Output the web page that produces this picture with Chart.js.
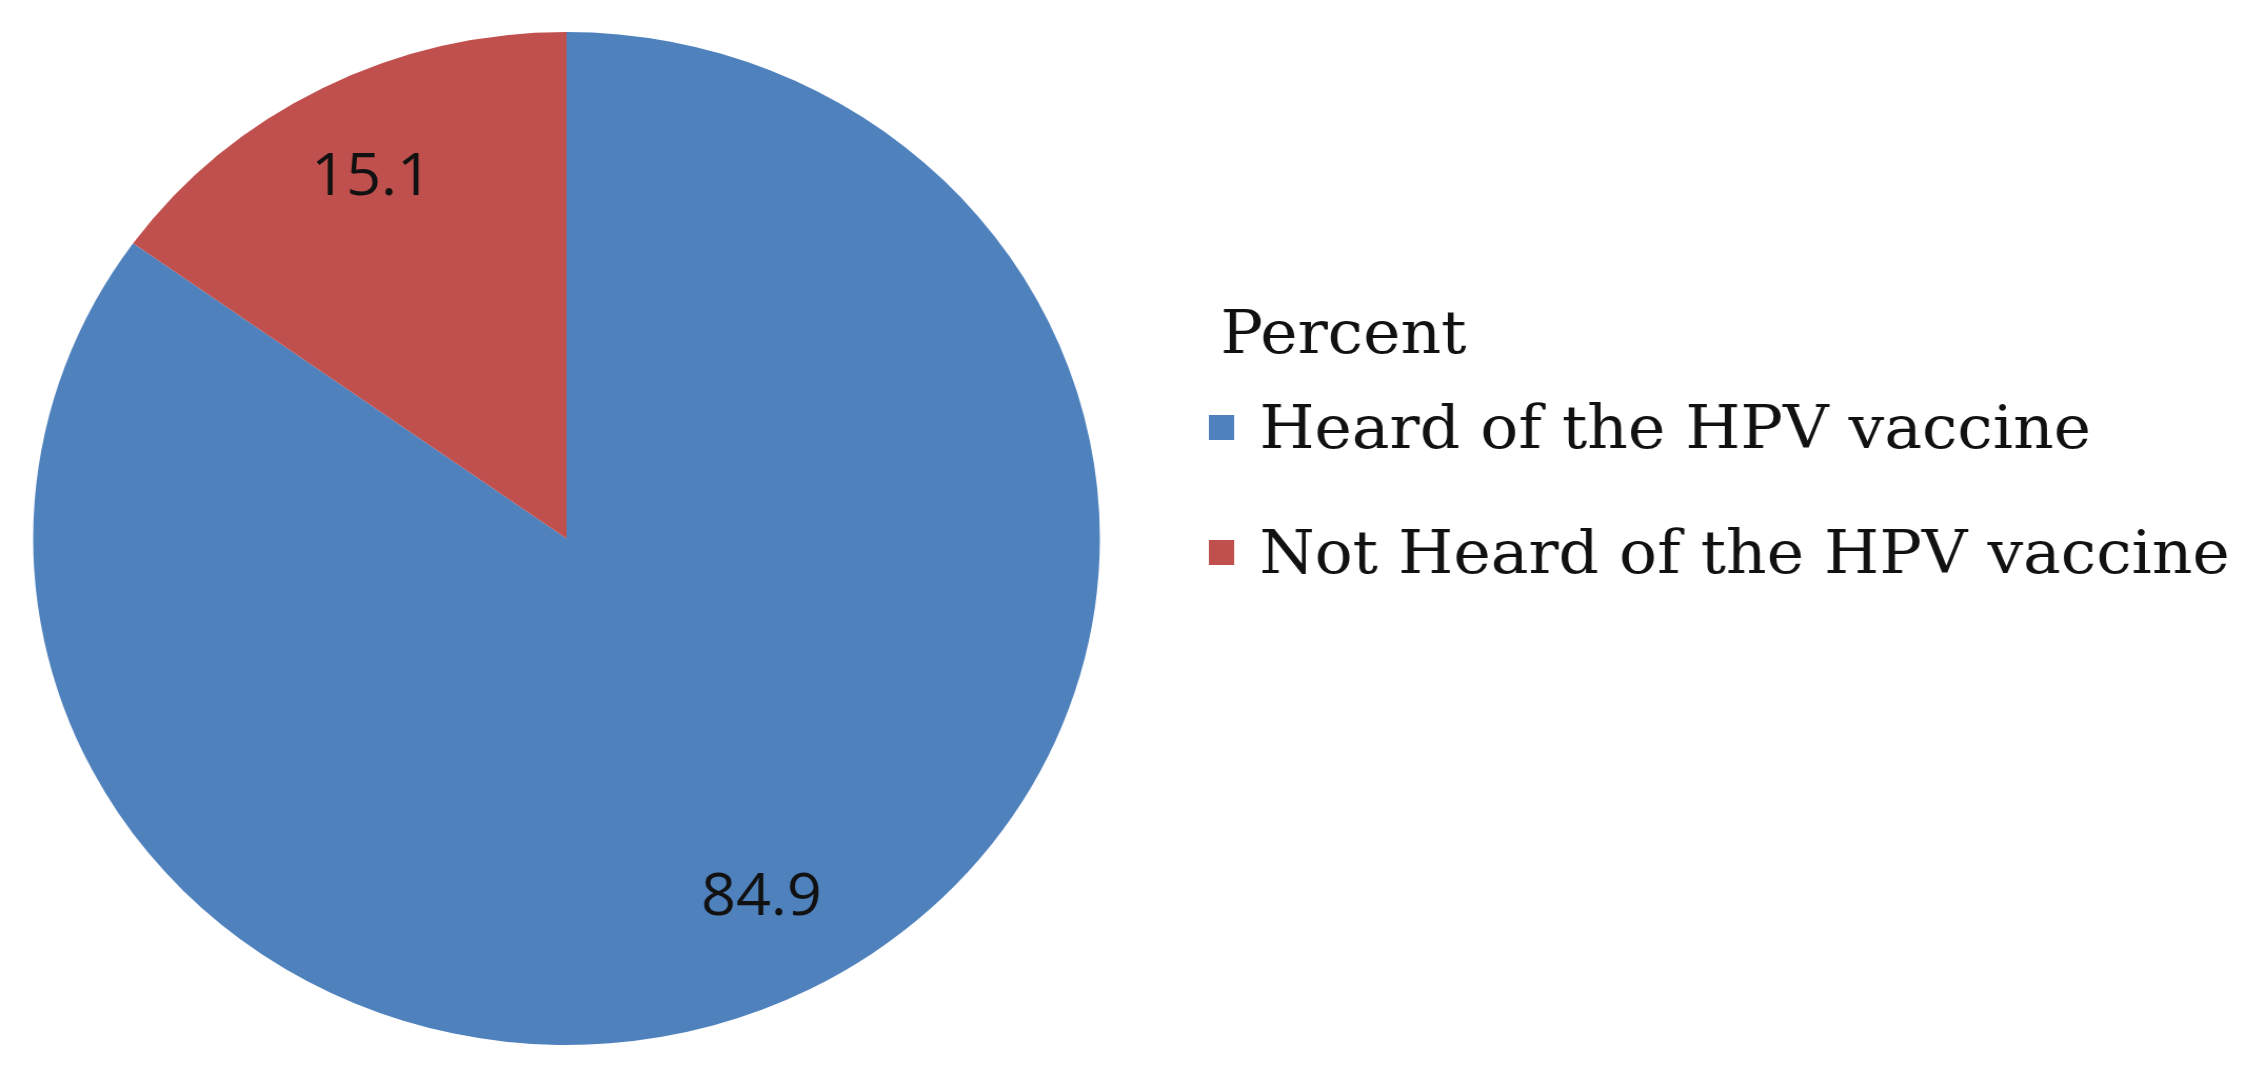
<!DOCTYPE html>
<html>
<head>
<meta charset="UTF-8">
<title>HPV vaccine awareness</title>
<script src="https://cdn.jsdelivr.net/npm/chart.js"></script>
<style>
  body { margin: 0; background: #ffffff; overflow: hidden; }
  /* the original figure is stretched a little sideways, so the pie is an ellipse */
  #wrap { position: relative; width: 2143px; height: 1081px; transform: scaleX(1.053); transform-origin: 0 0; }
</style>
</head>
<body>
<div id="wrap"><canvas id="pie"></canvas></div>
<script>
// data
const categories = ['Heard of the HPV vaccine', 'Not Heard of the HPV vaccine'];
const percentValues = [84.9, 15.1];
const legendTitle = 'Percent';
const sliceColors = ['#4f81bd', '#c0504d'];

// value labels inside the slices
const sliceLabels = {
  id: 'sliceLabels',
  afterDatasetsDraw(chart) {
    const ctx = chart.ctx;
    const meta = chart.getDatasetMeta(0);
    ctx.save();
    ctx.font = '58px "Open Sans", sans-serif';
    ctx.fillStyle = '#111111';
    ctx.textAlign = 'center';
    ctx.textBaseline = 'middle';
    meta.data.forEach((arc, i) => {
      const p = arc.getProps(['x', 'y', 'startAngle', 'endAngle', 'outerRadius'], true);
      const mid = (p.startAngle + p.endAngle) / 2;
      const r = p.outerRadius * 0.8;
      ctx.fillText(percentValues[i].toFixed(1), p.x + Math.cos(mid) * r, p.y + Math.sin(mid) * r);
    });
    ctx.restore();
  }
};

// legend on the right, drawn by hand so the spacing matches
const sideLegend = {
  id: 'sideLegend',
  afterDraw(chart) {
    const ctx = chart.ctx;
    const colors = chart.data.datasets[0].backgroundColor;
    ctx.save();
    ctx.fillStyle = '#111111';
    ctx.textBaseline = 'alphabetic';
    ctx.font = '60px "DejaVu Serif", serif';
    ctx.fillText(legendTitle, 1159, 353);
    chart.data.labels.forEach((lab, i) => {
      const cy = 427 + i * 125;
      ctx.fillStyle = colors[i];
      ctx.fillRect(1148, cy - 12, 24, 25);
      ctx.fillStyle = '#111111';
      ctx.fillText(lab, 1196, cy + 21);
    });
    ctx.restore();
  }
};

new Chart(document.getElementById('pie'), {
  type: 'pie',
  data: {
    labels: categories,
    datasets: [{ data: percentValues, backgroundColor: sliceColors, borderWidth: 0 }]
  },
  options: {
    responsive: true,
    maintainAspectRatio: false,
    animation: false,
    layout: { padding: { left: 31.5, top: 32, bottom: 36, right: 1098.5 } },
    plugins: { legend: { display: false }, tooltip: { enabled: false } }
  },
  plugins: [sliceLabels, sideLegend]
});
</script>
</body>
</html>
